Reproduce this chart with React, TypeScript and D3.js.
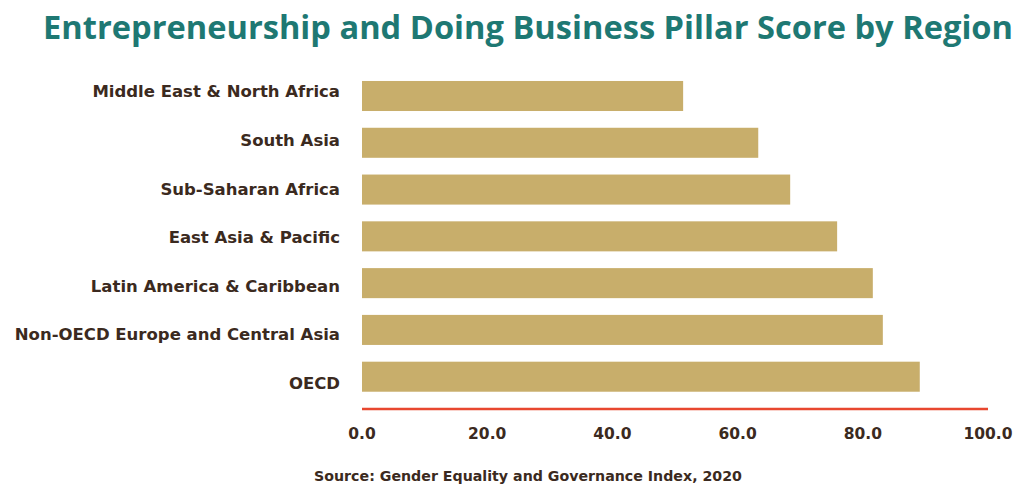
import React from "react";
import * as d3 from "d3";

const regions = [
  "Middle East & North Africa",
  "South Asia",
  "Sub-Saharan Africa",
  "East Asia & Pacific",
  "Latin America & Caribbean",
  "Non-OECD Europe and Central Asia",
  "OECD",
];
const scores = [51.3, 63.3, 68.4, 75.9, 81.6, 83.2, 89.1];
const ticks = [0, 20, 40, 60, 80, 100];

const W = 1018;
const H = 485;
const FONT = "'Open Sans', 'Noto Sans', sans-serif";
const FONT2 = "'DejaVu Sans', 'Open Sans', sans-serif";

export default function App() {
  const x = d3.scaleLinear().domain([0, 100]).range([362, 988]);
  const y = d3
    .scaleBand<string>()
    .domain(regions)
    .range([72.6, 400.1])
    .paddingInner(0.358)
    .paddingOuter(0.179);
  const yLabel = d3.scalePoint<string>().domain(regions).range([91.5, 382.7]);
  return (
    <svg
      width={W}
      height={H}
      style={{ position: "absolute", left: 0, top: 0, background: "#fff" }}
    >
      <text
        x={528}
        y={39}
        textAnchor="middle"
        fontFamily={FONT}
        fontWeight={700}
        fontSize={32}
        fill="#1E7873"
        textLength={970}
        lengthAdjust="spacingAndGlyphs"
      >
        Entrepreneurship and Doing Business Pillar Score by Region
      </text>
      {regions.map((r, i) => (
        <g key={r}>
          <rect
            x={x(0)}
            y={y(r)}
            width={x(scores[i]) - x(0)}
            height={y.bandwidth()}
            fill="#C8AE6B"
          />
          <text
            x={340}
            y={yLabel(r)}
            dy="0.36em"
            textAnchor="end"
            fontFamily={FONT2}
            fontWeight={700}
            fontSize={16.5}
            fill="#3B2A20"
          >
            {r}
          </text>
        </g>
      ))}
      <line x1={x(0)} x2={x(100)} y1={409} y2={409} stroke="#E8472F" strokeWidth={2.5} />
      {ticks.map((t) => (
        <text
          key={t}
          x={x(t)}
          y={439}
          textAnchor="middle"
          fontFamily={FONT2}
          fontWeight={700}
          fontSize={15.5}
          fill="#3B2A20"
        >
          {d3.format(".1f")(t)}
        </text>
      ))}
      <text
        x={528}
        y={481}
        textAnchor="middle"
        fontFamily={FONT2}
        fontWeight={700}
        fontSize={14.2}
        fill="#3B2A20"
      >
        Source: Gender Equality and Governance Index, 2020
      </text>
    </svg>
  );
}
